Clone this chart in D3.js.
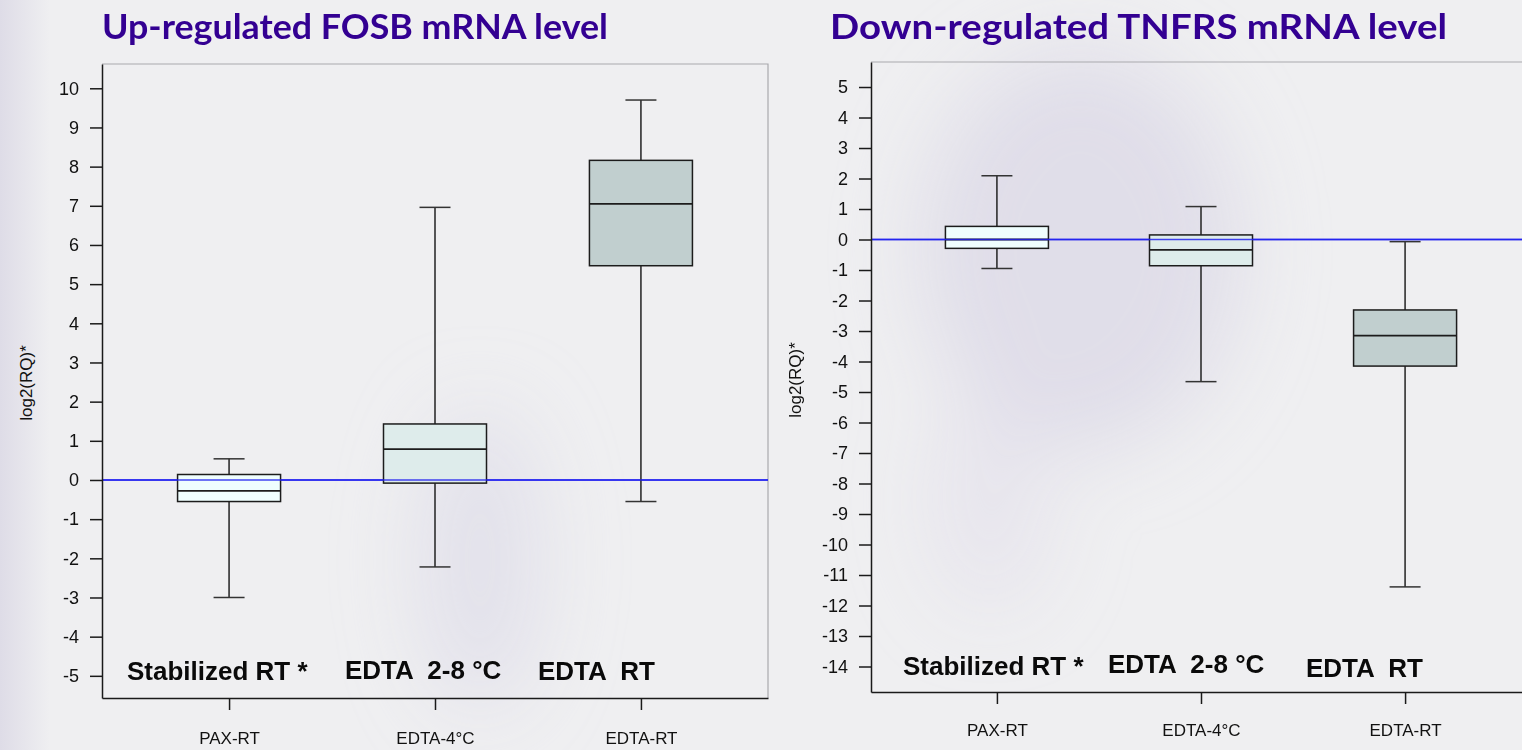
<!DOCTYPE html>
<html>
<head>
<meta charset="utf-8">
<script src="https://cdn.jsdelivr.net/npm/d3@7"></script>
<style>
  html, body { margin: 0; padding: 0; background: #efeff1; overflow: hidden; }
  svg { display: block; }
</style>
</head>
<body>
<div id="chart"></div>
<script>
// groups on the x axis
const categories = ['PAX-RT', 'EDTA-4°C', 'EDTA-RT']
const boxFills = ['#effefe', '#deeceb', '#c1cfcf']

// FOSB (left panel): lower whisker, Q1, median, Q3, upper whisker
const fosbLow = [-3.0, -2.22, -0.55]
const fosbQ1 = [-0.55, -0.08, 5.47]
const fosbMedian = [-0.28, 0.79, 7.05]
const fosbQ3 = [0.14, 1.43, 8.16]
const fosbHigh = [0.54, 6.96, 9.70]
const fosbTicks = d3.range(-5, 11)

// TNFRS (right panel)
const tnfrsLow = [-0.95, -4.66, -11.39]
const tnfrsQ1 = [-0.29, -0.86, -4.15]
const tnfrsMedian = [0.0, -0.34, -3.15]
const tnfrsQ3 = [0.43, 0.15, -2.31]
const tnfrsHigh = [2.09, 1.08, -0.07]
const tnfrsTicks = d3.range(-14, 6)

const groupLabels = ['Stabilized RT *', 'EDTA  2-8 °C', 'EDTA  RT']

const W = 1522, H = 750

const svg = d3.select('#chart').append('svg')
    .attr('width', W)
    .attr('height', H)

// soft background blobs like the slide behind the charts
const defs = svg.append('defs')
defs.append('filter').attr('id', 'blur')
    .attr('x', '-50%').attr('y', '-50%').attr('width', '200%').attr('height', '200%')
    .append('feGaussianBlur').attr('stdDeviation', 40)
let edge = defs.append('linearGradient').attr('id', 'edge')
edge.append('stop').attr('offset', '0%').attr('stop-color', '#dedce7')
edge.append('stop').attr('offset', '100%').attr('stop-color', '#efeff1')

svg.append('rect').attr('width', W).attr('height', H).attr('fill', '#efeff1')
svg.append('rect').attr('width', 50).attr('height', H).attr('fill', 'url(#edge)')

const blobs = svg.append('g').attr('filter', 'url(#blur)')
blobs.append('ellipse').attr('cx', 480).attr('cy', 560).attr('rx', 60).attr('ry', 150)
    .attr('fill', '#dddbe8').attr('opacity', 0.7)
blobs.append('ellipse').attr('cx', 1080).attr('cy', 250).attr('rx', 160).attr('ry', 200)
    .attr('fill', '#dddbe8').attr('opacity', 0.85)
blobs.append('ellipse').attr('cx', 990).attr('cy', 500).attr('rx', 60).attr('ry', 110)
    .attr('fill', '#e2e0eb').attr('opacity', 0.6)

const panels = [
    {
        title: 'Up-regulated FOSB mRNA level', titleX: 102, titleW: 506,
        x0: 102, x1: 768, top: 64, bottom: 698, domain: [-5.566, 10.62],
        ticks: fosbTicks, low: fosbLow, q1: fosbQ1, med: fosbMedian, q3: fosbQ3, high: fosbHigh,
        ylabX: 26, ylabY: 383, xPad: 22,
        notes: [[127, 680], [345, 679], [538, 680]]
    },
    {
        title: 'Down-regulated TNFRS mRNA level', titleX: 830, titleW: 617,
        x0: 871, x1: 1531, top: 62, bottom: 692, domain: [-14.836, 5.82],
        ticks: tnfrsTicks, low: tnfrsLow, q1: tnfrsQ1, med: tnfrsMedian, q3: tnfrsQ3, high: tnfrsHigh,
        ylabX: 795, ylabY: 380, xPad: 20,
        notes: [[903, 675], [1108, 673], [1306, 677]]
    }
]

panels.forEach((p) => {
    let x = d3.scalePoint()
        .domain(categories)
        .range([p.x0, p.x1])
        .padding(0.617)

    let y = d3.scaleLinear()
        .domain(p.domain)
        .range([p.bottom, p.top])

    let g = svg.append('g')

    // title
    g.append('text')
        .attr('x', p.titleX)
        .attr('y', 39)
        .attr('textLength', p.titleW)
        .attr('lengthAdjust', 'spacingAndGlyphs')
        .attr('fill', '#330092')
        .style('font-family', 'Lato, "Open Sans", sans-serif')
        .style('font-weight', 700)
        .style('font-size', '35px')
        .text(p.title)

    // grey frame top/right
    g.append('path')
        .attr('d', `M${p.x0},${p.top}H${p.x1}V${p.bottom}`)
        .attr('fill', 'none')
        .attr('stroke', '#a9a9ad')
        .attr('stroke-width', 1.2)

    // zero reference line
    g.append('line')
        .attr('x1', p.x0).attr('x2', p.x1)
        .attr('y1', y(0)).attr('y2', y(0))
        .attr('stroke', '#2424f0')
        .attr('stroke-width', 1.5)

    // boxes
    let box = g.selectAll('.box')
        .data(categories.map((c, i) => ({
            c: c, i: i, low: p.low[i], q1: p.q1[i], med: p.med[i], q3: p.q3[i], high: p.high[i]
        })))
        .enter().append('g')
        .attr('class', 'box')

    let bw = 103, cw = 31

    box.append('line')
        .attr('x1', (d) => x(d.c)).attr('x2', (d) => x(d.c))
        .attr('y1', (d) => y(d.high)).attr('y2', (d) => y(d.q3))
        .attr('stroke', '#222').attr('stroke-width', 1.5)
    box.append('line')
        .attr('x1', (d) => x(d.c)).attr('x2', (d) => x(d.c))
        .attr('y1', (d) => y(d.q1)).attr('y2', (d) => y(d.low))
        .attr('stroke', '#222').attr('stroke-width', 1.5)
    box.append('line')
        .attr('x1', (d) => x(d.c) - cw / 2).attr('x2', (d) => x(d.c) + cw / 2)
        .attr('y1', (d) => y(d.high)).attr('y2', (d) => y(d.high))
        .attr('stroke', '#333').attr('stroke-width', 1.5)
    box.append('line')
        .attr('x1', (d) => x(d.c) - cw / 2).attr('x2', (d) => x(d.c) + cw / 2)
        .attr('y1', (d) => y(d.low)).attr('y2', (d) => y(d.low))
        .attr('stroke', '#333').attr('stroke-width', 1.5)
    box.append('rect')
        .attr('x', (d) => x(d.c) - bw / 2)
        .attr('width', bw)
        .attr('y', (d) => y(d.q3))
        .attr('height', (d) => y(d.q1) - y(d.q3))
        .attr('fill', (d) => boxFills[d.i])
        .attr('stroke', '#1c1c1c')
        .attr('stroke-width', 1.5)
    box.append('line')
        .attr('x1', (d) => x(d.c) - bw / 2).attr('x2', (d) => x(d.c) + bw / 2)
        .attr('y1', (d) => y(d.med)).attr('y2', (d) => y(d.med))
        .attr('stroke', '#1c1c1c').attr('stroke-width', 1.8)

    // zero line drawn again across the boxes
    g.append('line')
        .attr('x1', p.x0).attr('x2', p.x1)
        .attr('y1', y(0)).attr('y2', y(0))
        .attr('stroke', '#2424f0')
        .attr('stroke-width', 1.3)
        .attr('opacity', 0.85)

    // axes
    let yAxis = g.append('g')
        .attr('transform', `translate(${p.x0},0)`)
        .call(d3.axisLeft(y).tickValues(p.ticks).tickFormat((d) => String(d))
            .tickSize(12).tickSizeOuter(0).tickPadding(11))
    let xAxis = g.append('g')
        .attr('transform', `translate(0,${p.bottom})`)
        .call(d3.axisBottom(x).tickSize(12).tickSizeOuter(0).tickPadding(p.xPad))

    yAxis.selectAll('text')
        .style('font-family', '"Liberation Sans", Arial, sans-serif')
        .style('font-size', '18px')
        .attr('fill', '#111')
    xAxis.selectAll('text')
        .style('font-family', '"Liberation Sans", Arial, sans-serif')
        .style('font-size', '17px')
        .attr('fill', '#111')
    g.selectAll('.domain, .tick line')
        .attr('stroke', '#1a1a1a')
        .attr('stroke-width', 1.5)

    // y label
    g.append('text')
        .attr('transform', `translate(${p.ylabX},${p.ylabY}) rotate(-90)`)
        .attr('text-anchor', 'middle')
        .attr('dy', '0.35em')
        .attr('fill', '#111')
        .style('font-family', '"Liberation Sans", Arial, sans-serif')
        .style('font-size', '17px')
        .text('log2(RQ)*')

    // group notes inside the plot
    g.selectAll('.note')
        .data(groupLabels)
        .enter().append('text')
        .attr('class', 'note')
        .attr('x', (d, i) => p.notes[i][0])
        .attr('y', (d, i) => p.notes[i][1])
        .attr('fill', '#0a0a0a')
        .style('white-space', 'pre')
        .style('font-family', '"Liberation Sans", Arial, sans-serif')
        .style('font-weight', 700)
        .style('font-size', '26px')
        .text((d) => d)
})
</script>
</body>
</html>
